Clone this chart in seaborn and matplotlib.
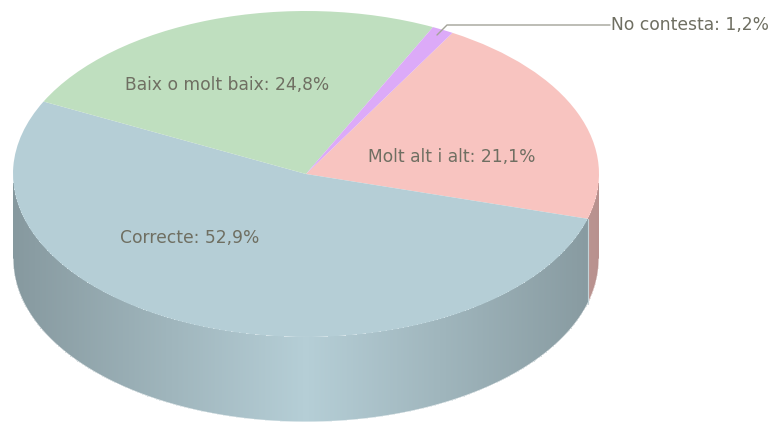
import numpy as np
import matplotlib
matplotlib.use('Agg')
import matplotlib.pyplot as plt
import seaborn as sns

categories = ['Molt alt i alt', 'Correcte', 'Baix o molt baix', 'No contesta']
values = [21.1, 52.9, 24.8, 1.2]
value_labels = ['21,1%', '52,9%', '24,8%', '1,2%']
slice_colors = ['#f8c4c0', '#b5ced6', '#bfdfbf', '#dcaaf8']

start_angle = 60
depth = 0.522
text_color = '#6f6f62'

sns.set_theme(style='white')
plt.rcParams['font.family'] = ['DejaVu Sans']
palette = sns.color_palette(slice_colors)

W, H = 772, 422
cx, cy, rx, ry = 306, 174, 293, 163

fig = plt.figure(figsize=(W / 100, H / 100), dpi=100)
ax = fig.add_axes([0, 0, 1, 1])


# pixels of the picture to pie units
def px(x, y):
    return (x - cx) / rx, (cy - y) / ry


# side wall, only the front half can be seen
edges = np.cumsum([0] + values) / 100 * 360
theta = np.linspace(180, 360, 721)
xs = np.cos(np.radians(theta))
ys = np.sin(np.radians(theta))
X = np.vstack([xs, xs])
Y = np.vstack([ys, ys - depth])
mid = (theta[:-1] + theta[1:]) / 2
mid_x = np.cos(np.radians(mid))
rgb = np.zeros((1, len(mid), 3))
for i, t in enumerate(mid):
    # angle clockwise from the start of the first slice
    gone = (start_angle - t) % 360
    k = np.searchsorted(edges, gone) - 1
    shade = 0.74 + 0.26 * (1 - abs(mid_x[i]))
    rgb[0, i] = np.array(palette[k]) * shade
ax.pcolormesh(X, Y, rgb, shading='flat', antialiased=False, linewidth=0, zorder=1)
# smooth the stepped lower rim
ax.plot(xs, ys - depth, color='white', lw=0.9, alpha=0.75, zorder=1.5)

wedges, _ = ax.pie(values, colors=palette, startangle=start_angle, counterclock=False,
                   radius=1, wedgeprops={'linewidth': 0})
for w in wedges:
    w.set_zorder(2)

# light edge where the wall changes slice
bx = np.cos(np.radians(start_angle - edges[1]))
by = np.sin(np.radians(start_angle - edges[1]))
ax.plot([bx, bx], [by, by - depth], color='#c4d3d8', lw=0.8, zorder=3)

ax.set_xlim(-cx / rx, (W - cx) / rx)
ax.set_ylim((cy - H) / ry, cy / ry)
ax.set_aspect('auto')
ax.axis('off')

fs = 12.3
ax.text(*px(452, 157), f'{categories[0]}: {value_labels[0]}', ha='center', va='center',
        color=text_color, fontsize=fs, zorder=4)
ax.text(*px(190, 238), f'{categories[1]}: {value_labels[1]}', ha='center', va='center',
        color=text_color, fontsize=fs, zorder=4)
ax.text(*px(227, 85), f'{categories[2]}: {value_labels[2]}', ha='center', va='center',
        color=text_color, fontsize=fs, zorder=4)
ax.text(*px(611, 25), f'{categories[3]}: {value_labels[3]}', ha='left', va='center',
        color=text_color, fontsize=fs, zorder=4)

# leader line of the small slice
lead = np.array([px(437, 35), px(447, 25), px(610, 25)])
ax.plot(lead[:, 0], lead[:, 1], color='#a3a398', lw=1.0, zorder=4)

fig.savefig('out.png', dpi=100)
